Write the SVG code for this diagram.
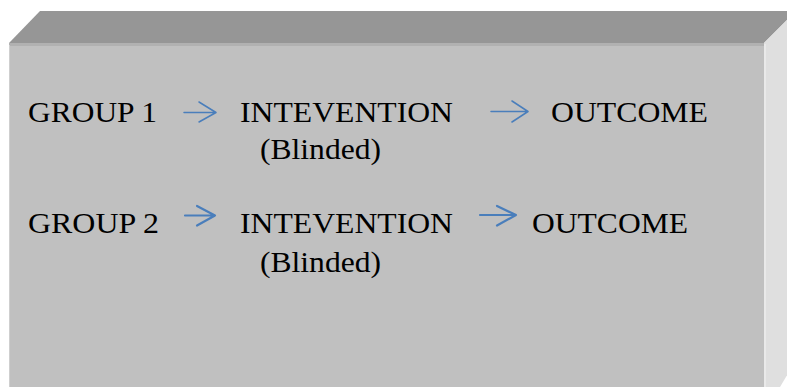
<svg xmlns="http://www.w3.org/2000/svg" width="787" height="387" viewBox="0 0 787 387">
<style>
.t{font-family:"Liberation Serif","Times New Roman",serif;font-size:30px;fill:#000}
.a{fill:none;stroke:#4a7ebb;stroke-linecap:round;stroke-linejoin:round}
</style>
<rect width="787" height="387" fill="#fff"/>
<g id="box">
<polygon points="9,43 40,11 796,11 764,43" fill="#969696"/>
<rect x="9" y="43" width="755" height="360" fill="#c0c0c0"/>
<polygon points="764,43 796,11 796,360 780,387 764,387" fill="#dfdfdf"/>
<line x1="9" y1="44.5" x2="764" y2="44.5" stroke="#b1b1b1" stroke-width="3"/>
<line x1="9.5" y1="45" x2="9.5" y2="387" stroke="#cfcfcf" stroke-width="1"/>
<line x1="765" y1="44" x2="765" y2="387" stroke="#e9e9e9" stroke-width="2"/>
</g>
<g id="group1"><text class="t" x="28" y="122" textLength="129" lengthAdjust="spacingAndGlyphs">GROUP 1</text></g>
<g id="intervention1"><text class="t" x="240" y="122" textLength="213" lengthAdjust="spacingAndGlyphs">INTEVENTION</text><text class="t" x="260" y="159" textLength="121" lengthAdjust="spacingAndGlyphs">(Blinded)</text></g>
<g id="outcome1"><text class="t" x="551" y="122" textLength="157" lengthAdjust="spacingAndGlyphs">OUTCOME</text></g>
<g id="group2"><text class="t" x="28" y="233" textLength="131" lengthAdjust="spacingAndGlyphs">GROUP 2</text></g>
<g id="intervention2"><text class="t" x="240" y="233" textLength="213" lengthAdjust="spacingAndGlyphs">INTEVENTION</text><text class="t" x="260" y="272" textLength="121" lengthAdjust="spacingAndGlyphs">(Blinded)</text></g>
<g id="outcome2"><text class="t" x="532" y="233" textLength="156" lengthAdjust="spacingAndGlyphs">OUTCOME</text></g>
<g id="connectors">
<path class="a" stroke-width="1.5" d="M184,112.5 H216 M199,102 L216,112.5 L199,122"/>
<path class="a" stroke-width="1.5" d="M491,111.5 H528 M512,101 L528,111.5 L512,122"/>
<path class="a" stroke-width="2.2" d="M185,215.5 H215 M197,206 L215,215.5 L197,225.5"/>
<path class="a" stroke-width="2.2" d="M480,215 H516 M497,206 L516,215 L497,225.5"/>
</g>
</svg>
